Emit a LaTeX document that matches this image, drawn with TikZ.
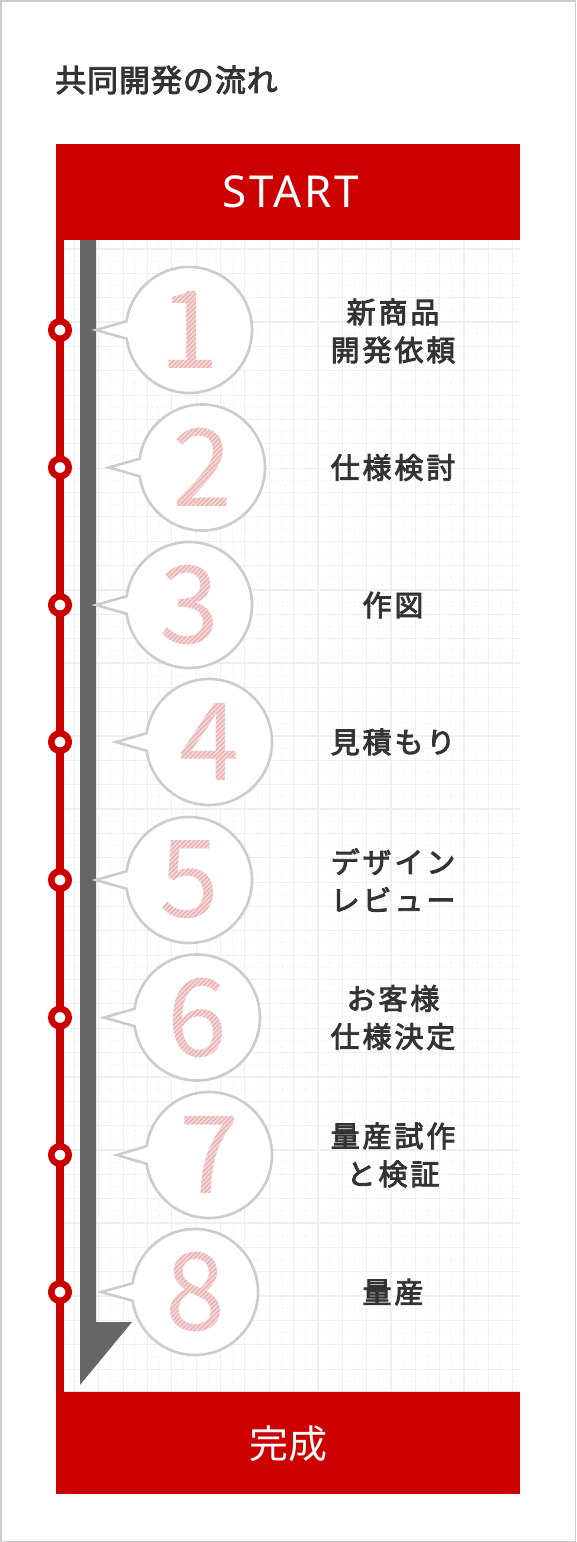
\documentclass[tikz,border=0pt]{standalone}
\usepackage{fontspec}
\newfontfamily\jp{Noto Sans CJK JP}
\newfontfamily\jplbl{Noto Sans CJK JP}[LetterSpace=10, FakeBold=3]
\newfontfamily\jptitle{Noto Sans CJK JP}[LetterSpace=3, FakeBold=3]
\newfontfamily\lat{Noto Sans}[LetterSpace=6]
\definecolor{brand}{HTML}{CC0000}
\definecolor{ink}{HTML}{333333}
\definecolor{barg}{HTML}{666666}
\definecolor{bub}{HTML}{CCCCCC}
\definecolor{pinkd}{HTML}{ECB4B4}
\definecolor{gridc}{HTML}{EFEFEF}
\definecolor{gridd}{HTML}{F1F1F1}
\definecolor{framec}{HTML}{CCCCCC}
\definecolor{edgec}{HTML}{DDDDDD}
\tikzset{
  gridline/.style={draw=gridc, line width=1.2pt},
  griddot/.style={draw=gridd, line width=1pt, dash pattern=on 1.2pt off 3pt},
  bubbleline/.style={draw=bub, fill=white, line width=2.6pt, line join=miter},
  hatchline/.style={draw=white, draw opacity=0.55, line width=1.2pt},
  digit/.style={text=pinkd, font=\jp\fontsize{108}{108}\selectfont, inner sep=0pt},
  lbl/.style={text=ink, font=\jplbl\fontsize{29}{38}\selectfont, align=center, inner sep=0pt},
  reddot/.style={circle, draw=brand, fill=white, line width=6.5pt, minimum size=17.5pt, inner sep=0pt},
  bandtext/.style={text=white, inner sep=0pt}
}
\newcommand\mybubble[5]{%
  \draw[bubbleline] (#1,#2) ++(188:63) arc[start angle=188, end angle=532, radius=63] -- (#3,#2) -- cycle;
  \node[digit] (d#5) at (#1,#2) {#4};
  \begin{scope}
    \clip (#1,#2) circle[radius=60];
    \foreach \t in {-140,-135.5,...,140} {
      \draw[hatchline] ([xshift=\t pt]#1-70,#2+70) -- ([xshift=\t pt]#1+70,#2-70);
    }
  \end{scope}
}
\begin{document}
\begin{tikzpicture}[x=1pt,y=-1pt]
\useasboundingbox (0,0) rectangle (576,1542);
\fill[white] (0,0) rectangle (576,1542);
\draw[draw=framec, line width=1.5pt] (0.75,0.75) rectangle (575.25,1541.25);
% title
\node[anchor=west, inner sep=0pt, text=ink, font=\jptitle\fontsize{31}{31}\selectfont] (title) at (55,80) {共同開発の流れ};
% grid
\begin{scope}
  \clip (64,240) rectangle (520,1392);
  \foreach \k in {-1,...,19} {
    \pgfmathsetmacro\xx{512.7-24.35*\k}
    \pgfmathsetmacro\xm{\xx-12.175}
    \draw[griddot] (\xm,240) -- (\xm,1392);
    \draw[gridline] (\xx,240) -- (\xx,1392);
  }
  \foreach \k in {-1,...,48} {
    \pgfmathsetmacro\yy{249+24.35*\k}
    \pgfmathsetmacro\ym{\yy+12.175}
    \draw[griddot] (64,\ym) -- (520,\ym);
    \draw[gridline] (64,\yy) -- (520,\yy);
  }
\end{scope}
\draw[draw=edgec, line width=1pt] (64,1391.5) -- (520,1391.5);
% red side line
\fill[brand] (56,240) rectangle (64,1392);
% grey arrow
\fill[barg] (80,240) -- (96,240) -- (96,1322) -- (132,1322) -- (80,1385) -- cycle;
% bubbles
\mybubble{189}{330}{96}{1}{1}
\mybubble{202}{467.5}{109}{2}{2}
\mybubble{189}{605}{96}{3}{3}
\mybubble{209}{742}{116}{4}{4}
\mybubble{189}{880}{96}{5}{5}
\mybubble{197}{1017.5}{104}{6}{6}
\mybubble{209}{1155}{117}{7}{7}
\mybubble{195}{1292}{101}{8}{8}
% labels
\node[lbl] (l1) at (393,331) {新商品\\開発依頼};
\node[lbl] (l2) at (393,467.5) {仕様検討};
\node[lbl] (l3) at (393,605) {作図};
\node[lbl] (l4) at (393,742) {見積もり};
\node[lbl] (l5) at (393,880) {デザイン\\レビュー};
\node[lbl] (l6) at (393,1017.5) {お客様\\仕様決定};
\node[lbl] (l7) at (393,1155) {量産試作\\と検証};
\node[lbl] (l8) at (393,1292) {量産};
% red dots
\foreach \i/\y in {1/330,2/467.5,3/605,4/742,5/880,6/1017.5,7/1155,8/1292} {
  \node[reddot] (p\i) at (60,\y) {};
}
% start and end bands
\fill[brand] (56,144) rectangle (520,240);
\node[bandtext, font=\lat\fontsize{44}{44}\selectfont] (start) at (291,192) {START};
\fill[brand] (56,1392) rectangle (520,1494);
\node[bandtext, font=\jp\fontsize{39}{39}\selectfont] (finish) at (288,1444) {完成};
\end{tikzpicture}
\end{document}
